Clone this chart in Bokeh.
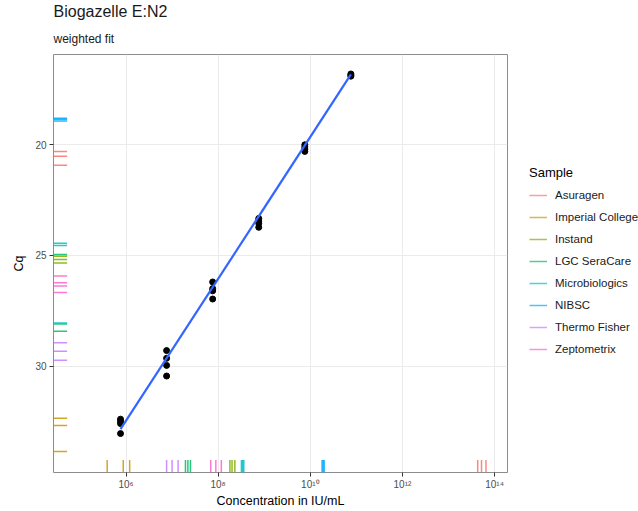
import numpy as np
from bokeh.plotting import figure
from bokeh.layouts import row
from bokeh.models import Range1d, FixedTicker, Legend, LegendItem, Title, ColumnDataSource
from bokeh.embed import file_html
from bokeh.resources import INLINE

# ---- data -------------------------------------------------------------
conc = [7.6e5, 7.6e5, 7.6e5, 7.6e5,
        7.6e6, 7.6e6, 7.6e6, 7.6e6,
        7.6e7, 7.6e7, 7.6e7, 7.6e7,
        7.6e8, 7.6e8, 7.6e8, 7.6e8,
        7.6e9, 7.6e9, 7.6e9, 7.6e9,
        7.6e10, 7.6e10, 7.6e10]
cq = [32.4, 32.5, 32.6, 33.05,
      29.3, 29.65, 29.97, 30.45,
      26.2, 26.5, 26.6, 26.97,
      23.33, 23.45, 23.55, 23.73,
      20.0, 20.1, 20.2, 20.3,
      16.8, 16.85, 16.9]

fit_conc = [7.6e5, 7.6e10]
fit_cq = [32.85, 16.82]

samples = ["Asuragen", "Imperial College", "Instand", "LGC SeraCare",
           "Microbiologics", "NIBSC", "Thermo Fisher", "Zeptometrix"]
colors = ["#F8766D", "#CD9600", "#7CAE00", "#00BE67",
          "#00BFC4", "#00A9FF", "#C77CFF", "#FF61CC"]
rug_conc = [
    [4.3e13, 5.2e13, 6.5e13],
    [3.9e5, 8.7e5, 1.2e6],
    [1.8e8, 2.0e8, 2.3e8],
    [1.95e7, 2.2e7, 2.5e7],
    [3.2e8, 3.4e8, 3.6e8],
    [1.8e10, 1.9e10, 2.0e10],
    [7.6e6, 1.0e7, 1.35e7],
    [6.9e7, 8.9e7, 1.17e8],
]
rug_cq = [
    [20.3, 20.52, 20.92],
    [32.36, 32.69, 33.86],
    [25.04, 25.18, 25.34],
    [24.96, 28.1, 28.43],
    [24.45, 24.55, 28.05],
    [18.8, 18.85, 18.92],
    [28.95, 29.33, 29.74],
    [25.93, 26.23, 26.38, 26.68],
]

x_ticks = [1e6, 1e8, 1e10, 1e12, 1e14]
x_tick_labels = ["10\u2076", "10\u2078", "10\u00b9\u2070", "10\u00b9\u00b2", "10\u00b9\u2074"]
y_ticks = [20, 25, 30]

# ---- figure -----------------------------------------------------------
LX0, LX1 = 4.426, 14.28
YB, YT = 34.81, 15.92
XL, XR = 10 ** LX0, 10 ** LX1
FONT = "Liberation Sans"

p = figure(width=508, height=511, x_axis_type="log",
           x_range=Range1d(XL, XR), y_range=Range1d(YB, YT),
           output_backend="svg", toolbar_location=None,
           min_border_left=53, min_border_right=1,
           min_border_top=0, min_border_bottom=39)
p.title = None

sub = Title(text="weighted fit", text_font_size="12px", text_font=FONT,
            text_font_style="normal", text_color="#1A1A1A", align="left", standoff=18)
main = Title(text="Biogazelle E:N2", text_font_size="16px", text_font=FONT,
             text_font_style="normal", text_color="#1A1A1A", align="left", standoff=1)
p.add_layout(sub, "above")
p.add_layout(main, "above")

p.background_fill_color = "white"
p.border_fill_color = "white"
p.outline_line_color = "#8C8C8C"
p.outline_line_width = 1

p.xgrid.grid_line_color = "#EBEBEB"
p.ygrid.grid_line_color = "#EBEBEB"
p.xgrid.grid_line_width = 1
p.ygrid.grid_line_width = 1

p.xaxis.ticker = FixedTicker(ticks=x_ticks)
p.xaxis.major_label_overrides = {t: l for t, l in zip(x_ticks, x_tick_labels)}
p.yaxis.ticker = FixedTicker(ticks=y_ticks)

for ax in (p.xaxis, p.yaxis):
    ax.axis_line_color = None
    ax.major_tick_line_color = "#333333"
    ax.major_tick_out = 4
    ax.major_tick_in = 0
    ax.minor_tick_line_color = None
    ax.major_label_text_font = FONT
    ax.major_label_text_font_size = "10px"
    ax.major_label_text_color = "#4D4D4D"
    ax.axis_label_text_font = FONT
    ax.axis_label_text_font_size = "12.5px"
    ax.axis_label_text_font_style = "normal"
    ax.axis_label_text_color = "#000000"
    ax.major_label_standoff = 3

p.xaxis.axis_label = "Concentration in IU/mL"
p.yaxis.axis_label = "Cq"
p.xaxis.major_label_standoff = 2
p.xaxis.axis_label_standoff = 1
p.yaxis.axis_label_standoff = 6

# ---- rugs ------------------------------------------------------------
rug_x_end = 10 ** (LX0 + 0.03 * (LX1 - LX0))
rug_y_end = YB - 0.03 * (YB - YT)

RUG_W, RUG_A = 1.5, 0.85
for name, col, xs, ys in zip(samples, colors, rug_conc, rug_cq):
    p.segment(x0=xs, x1=xs, y0=[YB] * len(xs), y1=[rug_y_end] * len(xs),
              line_color=col, line_width=RUG_W, line_alpha=RUG_A)
    p.segment(x0=[XL] * len(ys), x1=[rug_x_end] * len(ys), y0=ys, y1=ys,
              line_color=col, line_width=RUG_W, line_alpha=RUG_A)

# ---- points and fit -----------------------------------------------------
src = ColumnDataSource(dict(conc=conc, cq=cq))
p.scatter("conc", "cq", source=src, size=6, color="black")
p.line(fit_conc, fit_cq, line_color="#3366FF", line_width=2.2)

# ---- legend panel -------------------------------------------------------
lf = figure(width=130, height=511, x_range=Range1d(0, 1), y_range=Range1d(0, 1),
            output_backend="svg", toolbar_location=None,
            x_axis_location=None, y_axis_location=None,
            min_border_left=0, min_border_right=0, min_border_top=0, min_border_bottom=0)
lf.title = None
lf.outline_line_color = None
lf.xgrid.visible = False
lf.ygrid.visible = False
lf.background_fill_color = "white"
lf.border_fill_color = "white"

# legend-only key renderers (kept outside the visible range of this panel)
items = []
for name, col in zip(samples, colors):
    r = lf.segment(x0=[-5], x1=[-4], y0=[-5], y1=[-5], line_color=col,
                   line_width=RUG_W, line_alpha=0.7)
    items.append(LegendItem(label=name, renderers=[r]))

legend = Legend(items=items, location=(21, 113), title="Sample",
                title_text_font=FONT, title_text_font_size="13px",
                title_text_font_style="normal", title_text_color="#000000",
                title_standoff=5,
                label_text_font=FONT, label_text_font_size="11.5px",
                label_text_color="#1A1A1A",
                glyph_width=18, glyph_height=20, label_height=20,
                label_standoff=8, spacing=2, padding=4, margin=0,
                border_line_color=None, background_fill_alpha=0)
lf.add_layout(legend)

layout = row(p, lf, spacing=0)
open("out.html", "w").write(file_html(layout, INLINE))
